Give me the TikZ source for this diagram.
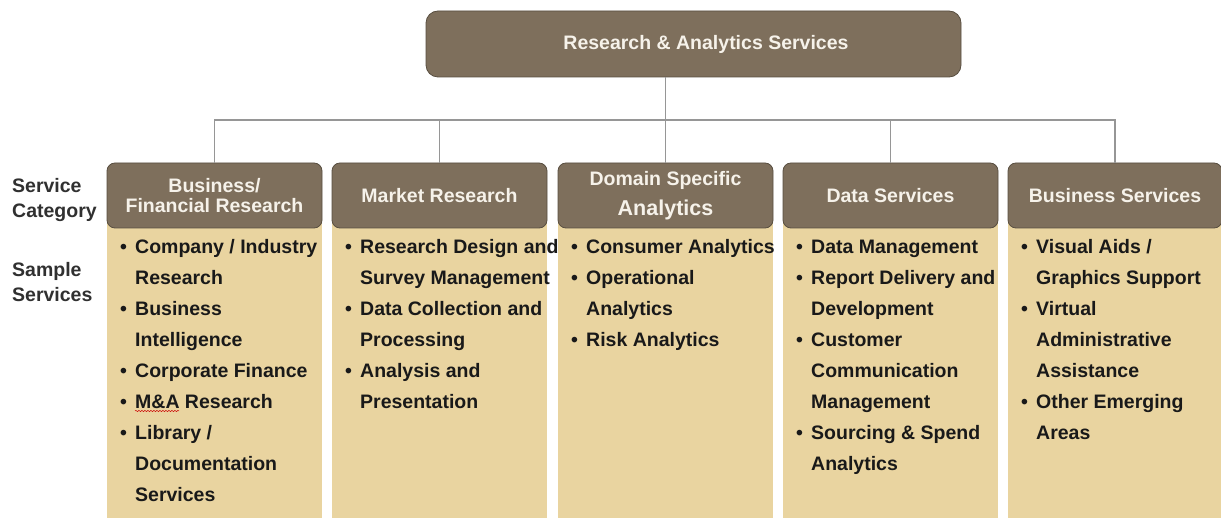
\documentclass[tikz,border=0pt]{standalone}
\usepackage{fontspec}
\setmainfont{Liberation Sans}
\usetikzlibrary{decorations.pathmorphing}
\definecolor{boxbrown}{RGB}{126,111,92}
\definecolor{boxedge}{RGB}{88,78,64}
\definecolor{tanfill}{RGB}{233,212,160}
\definecolor{conn}{RGB}{150,150,150}
\definecolor{ink}{RGB}{25,25,25}
\definecolor{hdrtext}{RGB}{246,242,234}
\newcommand\bl{\textbullet}
\begin{document}
\begin{tikzpicture}[x=1pt,y=-1pt,
  topbox/.style={draw=boxedge, line width=0.8pt, fill=boxbrown, rounded corners=12pt, inner sep=0pt},
  catbox/.style={draw=boxedge, line width=0.8pt, fill=boxbrown, rounded corners=8pt, inner sep=0pt,
    minimum height=65pt, text=hdrtext, align=center, font=\fontsize{19.5}{20}\selectfont\bfseries},
  hdrlbl/.style={text=hdrtext, inner sep=0pt, font=\fontsize{19.5}{20}\selectfont\bfseries},
  itemlist/.style={anchor=north west, inner sep=0pt, text=ink, font=\fontsize{19.5}{31}\selectfont\bfseries},
  sidelbl/.style={anchor=base west, inner sep=0pt, text=ink!90, font=\fontsize{19.5}{25}\selectfont\bfseries},
  connector/.style={draw=conn, line width=1.3pt}
]
\useasboundingbox (0,0) rectangle (1221,518);
\fill[white] (0,0) rectangle (1221,518);

% tan columns
\fill[tanfill] (107,195) rectangle (322,518);
\fill[tanfill] (332,195) rectangle (547,518);
\fill[tanfill] (558,195) rectangle (773,518);
\fill[tanfill] (783,195) rectangle (998,518);
\fill[tanfill] (1008,195) rectangle (1221,518);

% top box
\node[topbox, minimum width=535pt, minimum height=66pt] (top) at (693.5,44) {};
\node[hdrlbl] (toplbl) at (706,44) {Research \& Analytics Services};

% category boxes
\node[catbox, minimum width=215pt] (c1) at (214.5,195.5) {Business/\\Financial Research};
\node[catbox, minimum width=215pt] (c2) at (439.5,195.5) {Market Research};
\node[catbox, minimum width=215pt, font=\fontsize{19.5}{30}\selectfont\bfseries] (c3) at (665.5,195.5) {Domain Specific\\{\fontsize{21.5}{30}\selectfont Analytics}};
\node[catbox, minimum width=215pt] (c4) at (890.5,195.5) {Data Services};
\node[catbox, minimum width=214pt] (c5) at (1115,195.5) {Business Services};

% connectors
\coordinate (busL) at (214.5,120);
\coordinate (busR) at (1115,120);
\draw[connector] (c3.north |- top.south) -- (c3.north);
\draw[connector] (c1.north) -- (c1.north |- busL) -- (busR) -- (c5.north);
\draw[connector] (c2.north) -- (c2.north |- busL);
\draw[connector] (c4.north) -- (c4.north |- busL);

% side labels
\node[sidelbl] (sc1) at (12,193) {Service};
\node[sidelbl] (sc2) at (12,218) {Category};
\node[sidelbl] (ss1) at (12,276.5) {Sample};
\node[sidelbl] (ss2) at (12,302) {Services};

% item lists
\node[itemlist] (l1) at (120,231.3) {\begin{tabular}{@{}p{15pt}@{}l@{}}
\bl & Company / Industry\\
 & Research\\
\bl & Business\\
 & Intelligence\\
\bl & Corporate Finance\\
\bl & M\&A Research\\
\bl & Library /\\
 & Documentation\\
 & Services
\end{tabular}};
\node[itemlist] (l2) at (345,231.3) {\begin{tabular}{@{}p{15pt}@{}l@{}}
\bl & Research Design and\\
 & Survey Management\\
\bl & Data Collection and\\
 & Processing\\
\bl & Analysis and\\
 & Presentation
\end{tabular}};
\node[itemlist] (l3) at (571,231.3) {\begin{tabular}{@{}p{15pt}@{}l@{}}
\bl & Consumer Analytics\\
\bl & Operational\\
 & Analytics\\
\bl & Risk Analytics
\end{tabular}};
\node[itemlist] (l4) at (796,231.3) {\begin{tabular}{@{}p{15pt}@{}l@{}}
\bl & Data Management\\
\bl & Report Delivery and\\
 & Development\\
\bl & Customer\\
 & Communication\\
 & Management\\
\bl & Sourcing \& Spend\\
 & Analytics
\end{tabular}};
\node[itemlist] (l5) at (1021,231.3) {\begin{tabular}{@{}p{15pt}@{}l@{}}
\bl & Visual Aids /\\
 & Graphics Support\\
\bl & Virtual\\
 & Administrative\\
 & Assistance\\
\bl & Other Emerging\\
 & Areas
\end{tabular}};

% spell-check squiggle under M&A
\draw[red!80!black, line width=0.5pt, decorate, decoration={snake, amplitude=0.6pt, segment length=3pt}] (135,411) -- (179,411);
\end{tikzpicture}
\end{document}
